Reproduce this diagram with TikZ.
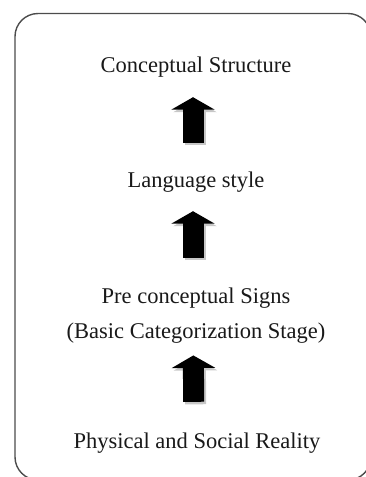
\documentclass[tikz,border=0pt]{standalone}
\usepackage{fontspec}
\setmainfont{Liberation Serif}
\usetikzlibrary{arrows.meta}

\begin{document}
\begin{tikzpicture}[x=1pt,y=1pt]
\tikzset{etape/.style={inner sep=0, text=black!90, font=\fontsize{22.5}{35}\selectfont, text height=16pt, text depth=5pt},
  grosse/.style={line width=21pt, -{Triangle[width=43pt,length=12.5pt]}}}
\useasboundingbox (0,0) rectangle (366,-477);
\clip (0,0) rectangle (366,-477);
\draw[black!70, line width=1.4pt, rounded corners=23pt] (15,-13.5) rectangle (371,-480);
\node[etape] (C) at (196,-67) {Conceptual Structure};
\node[etape] (L) at (196,-182) {Language style};
\node[etape, align=center, text height=, text depth=] (P) at (196,-315.5) {Pre conceptual Signs\\(Basic Categorization Stage)};
\node[etape] (R) at (197,-442.5) {Physical and Social Reality};
% ombres
\begin{scope}[transform canvas={shift={(-1pt,-2.5pt)}}]
\draw[grosse, black!22, shorten <=28.5pt, shorten >=19.5pt] (L) -- (C);
\draw[grosse, black!22, shorten <=30pt, shorten >=18.5pt] (P) -- (L);
\draw[grosse, black!22, shorten <=30pt, shorten >=12pt] (R) -- (P);
\end{scope}
\begin{scope}[transform canvas={xshift=-3pt}]
\draw[grosse, shorten <=28.5pt, shorten >=19.5pt] (L) -- (C);
\draw[grosse, shorten <=30pt, shorten >=18.5pt] (P) -- (L);
\draw[grosse, shorten <=30pt, shorten >=12pt] (R) -- (P);
\end{scope}
\end{tikzpicture}
\end{document}
